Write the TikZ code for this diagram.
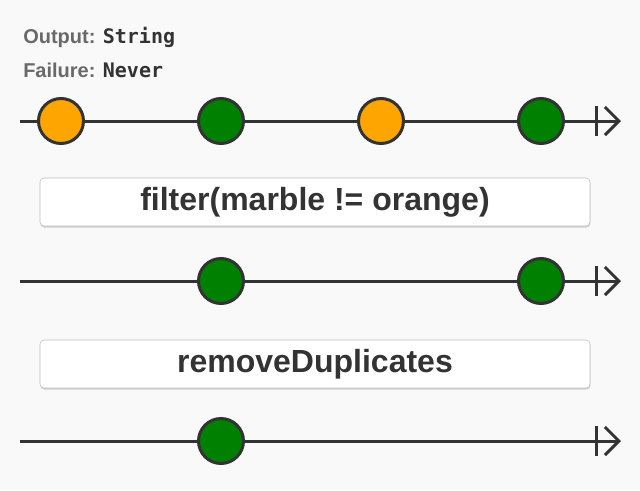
\documentclass[tikz,border=0pt]{standalone}
\usepackage{fontspec}
\setmainfont{Liberation Sans}
\newfontfamily\codefont{DejaVu Sans Mono}
\usetikzlibrary{arrows.meta,shadows}
\definecolor{paper}{RGB}{249,249,249}
\definecolor{ink}{RGB}{51,51,51}
\definecolor{caption}{RGB}{105,105,105}
\definecolor{marbleorange}{RGB}{255,165,0}
\definecolor{marblegreen}{RGB}{0,128,0}
\tikzset{
  marble/.style={circle,draw=ink,line width=2.25pt,minimum size=33.75pt,inner sep=0pt},
  timeline/.style={draw=ink,line width=2.25pt},
  opbox/.style={draw=black!25,fill=white,rounded corners=3pt,minimum width=412.5pt,minimum height=36pt,
    font=\fontsize{24}{28}\selectfont\bfseries,text=ink,
    drop shadow={shadow xshift=0.3pt,shadow yshift=-1.2pt,opacity=0.35}},
  typeinfo/.style={anchor=base west,inner sep=0pt,font=\fontsize{15}{18}\selectfont\bfseries,text=caption}
}

\begin{document}
\begin{tikzpicture}[x=0.75pt,y=-0.75pt]
    \fill[paper] (0,0) rectangle (640,490);
    \useasboundingbox (0,0) rectangle (640,490);
    \node[typeinfo] (output) at (23,43) {Output: {\codefont\color{ink}String}};
    \node[typeinfo] (failure) at (23,77) {Failure: {\codefont\color{ink}Never}};
    % three timelines
    \foreach \y [count=\r] in {121,281,441}
    {
      \coordinate (start\r) at (20,\y);
      \coordinate (bar\r) at (596,\y);
      \coordinate (end\r) at (621,\y);
      \draw[timeline,-{Straight Barb[length=10.5pt,width=21pt]}] (start\r) -- (end\r);
      \draw[timeline] (bar\r) ++(0,-15) -- ++(0,30);
    }
    \foreach \x/\y/\c [count=\i] in {
      61/121/marbleorange, 221/121/marblegreen, 381/121/marbleorange, 541/121/marblegreen,
      221/281/marblegreen, 541/281/marblegreen,
      221/441/marblegreen}
    {
      \node[marble,fill=\c] (m\i) at (\x,\y) {};
    }
    \node[opbox] (filter) at (315,202) {filter(marble != orange)};
    \node[opbox] (dedup) at (315,364) {removeDuplicates};
  \end{tikzpicture}
\end{document}
